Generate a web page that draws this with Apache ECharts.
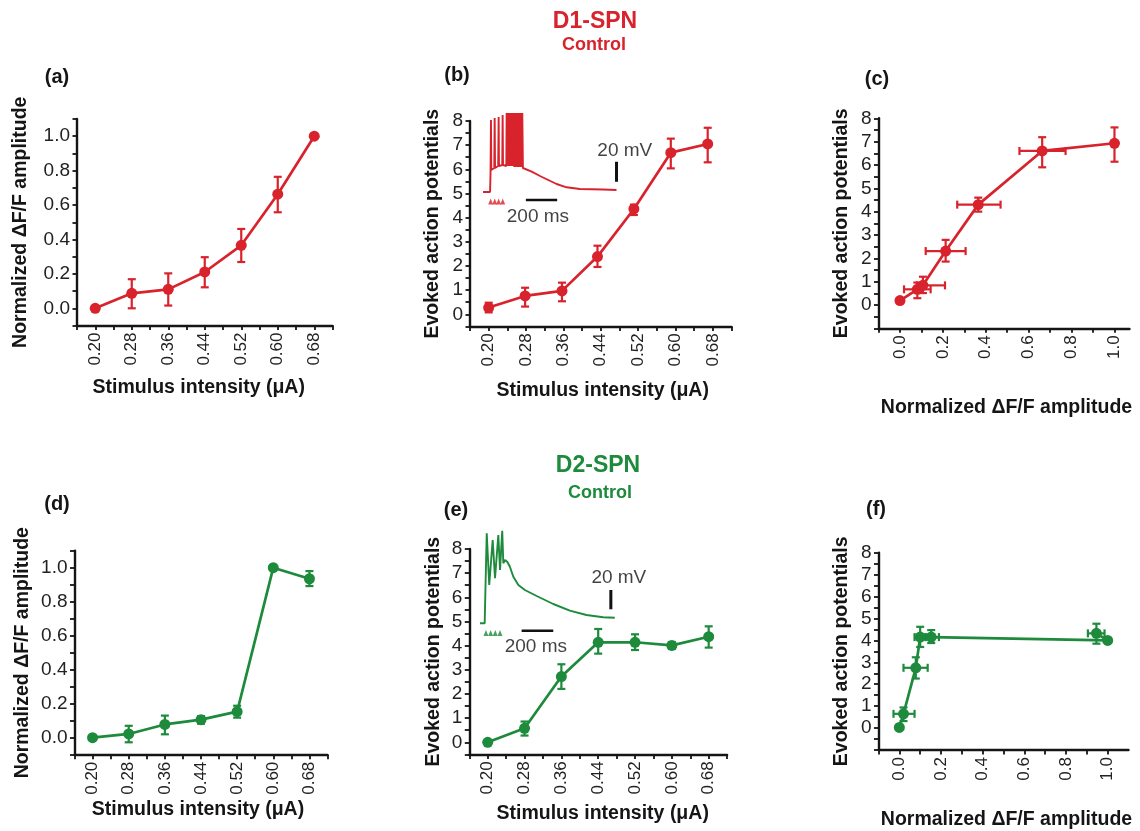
<!DOCTYPE html>
<html><head><meta charset="utf-8">
<script src="https://cdn.jsdelivr.net/npm/echarts@6/dist/echarts.min.js"></script>
<style>html,body{margin:0;padding:0;background:#fff}#c{width:1140px;height:831px}</style>
</head><body><div id="c"></div>
<script>
// ---------------- DATA ----------------
const stim = [0.20, 0.28, 0.36, 0.44, 0.52, 0.60, 0.68];
// (a) D1 normalized dF/F vs stimulus
const aY  = [0.0, 0.087, 0.11, 0.211, 0.366, 0.663, 1.0];
const aLo = [null, 0.0, 0.016, 0.122, 0.269, 0.558, null];
const aHi = [null, 0.169, 0.203, 0.297, 0.461, 0.764, null];
// (b) D1 evoked APs vs stimulus
const bX  = [0.20, 0.278, 0.357, 0.433, 0.511, 0.59, 0.669];
const bY  = [0.28, 0.76, 0.97, 2.39, 4.36, 6.69, 7.05];
const bLo = [0.08, 0.32, 0.54, 1.96, 4.11, 6.04, 6.29];
const bHi = [0.48, 1.10, 1.31, 2.84, 4.54, 7.27, 7.72];
// (c) D1 evoked APs vs normalized dF/F
const cX   = [0.0, 0.081, 0.107, 0.213, 0.365, 0.663, 1.0];
const cY   = [0.19, 0.67, 0.84, 2.31, 4.30, 6.60, 6.93];
const cXLo = [null, 0.019, 0.079, 0.12, 0.267, 0.557, null];
const cXHi = [null, 0.143, 0.21, 0.306, 0.469, 0.772, null];
const cYLo = [null, 0.29, 0.51, 1.86, 4.0, 5.9, 6.14];
const cYHi = [null, 0.96, 1.21, 2.79, 4.6, 7.19, 7.61];
// (d) D2 normalized dF/F vs stimulus
const dY  = [0.0, 0.022, 0.078, 0.106, 0.153, 1.0, 0.935];
const dLo = [null, -0.027, 0.02, 0.082, 0.118, null, 0.892];
const dHi = [null, 0.07, 0.13, 0.127, 0.188, null, 0.98];
// (e) D2 evoked APs vs stimulus
const eY  = [0.0, 0.58, 2.72, 4.14, 4.14, 4.01, 4.37];
const eLo = [null, 0.28, 2.21, 3.67, 3.82, 3.86, 3.92];
const eHi = [null, 0.86, 3.23, 4.69, 4.47, 4.15, 4.80];
// (f) D2 evoked APs vs normalized dF/F
const fX   = [0.0, 0.02, 0.079, 0.10, 0.153, 1.0, 0.946];
const fY   = [0.03, 0.65, 2.75, 4.15, 4.15, 4.0, 4.32];
const fXLo = [null, -0.028, 0.02, 0.073, 0.125, null, 0.905];
const fXHi = [null, 0.073, 0.136, 0.127, 0.19, null, 0.985];
const fYLo = [null, 0.32, 2.26, 3.70, 3.88, null, 3.85];
const fYHi = [null, 0.94, 3.23, 4.62, 4.47, null, 4.76];

// inset traces (time ms, membrane mV)
const trB_t = [0,45,48,51,53,72,74.5,77,97,100,102,123,125.5,128,149,151,156,162,167,173,178,184,189,195,200,206,211,217,222,228,233,239,245,251,255,311,364,417,470,534,619,768,853];
const trB_v = [-80,-80,-62,-8,-58,-56,-6,-56,-54,-5,-54,-53,-3,-53,-54,-1,-54,-1,-54,-1,-54,-1,-54,-1,-55,-1,-55,-1,-55,-1,-55,-1,-55,-1,-56,-59.7,-64,-68,-72,-75.3,-77,-77.5,-78];
const stimB_t = [49, 75, 100, 126];
const trE_t = [0,30,32,43,59,81,96,117,128,142,149,160,175,191,213,245,287,362,468,574,680,787,861];
const trE_v = [-79.3,-79.3,-64,10.7,-41,4,-34.3,9,-26,13.3,-19.3,-16,-18,-22.7,-32.7,-41,-46,-52,-60,-66.7,-71,-73.3,-73.7];
const stimE_t = [38, 68, 97.5, 127.6];

// tick values / labels
const xLabStim  = [0.20, 0.28, 0.36, 0.44, 0.52, 0.60, 0.68];
const xTickStim = [0.16,0.20,0.24,0.28,0.32,0.36,0.40,0.44,0.48,0.52,0.56,0.60,0.64,0.68,0.72];
const yLabNorm  = [0.0, 0.2, 0.4, 0.6, 0.8, 1.0];
const yTickNorm = [-0.1,0,0.1,0.2,0.3,0.4,0.5,0.6,0.7,0.8,0.9,1.0,1.1];
const yLabAP    = [0,1,2,3,4,5,6,7,8];
const yTickAPb  = [-0.5,0,0.5,1,1.5,2,2.5,3,3.5,4,4.5,5,5.5,6,6.5,7,7.5,8];
const yTickAPc  = [-1,-0.5,0,0.5,1,1.5,2,2.5,3,3.5,4,4.5,5,5.5,6,6.5,7,7.5,8];
const xLabNorm  = [0.0, 0.2, 0.4, 0.6, 0.8, 1.0];
const xTickNorm = [-0.1,0,0.1,0.2,0.3,0.4,0.5,0.6,0.7,0.8,0.9,1.0];

// ---------------- STYLE / LAYOUT ----------------
const RED = '#d8232c', GREEN = '#1d8a3c', INK = '#151515';
const NAME_STIM = 'Stimulus intensity (\u03bcA)';
const NAME_NORM = 'Normalized \u0394F/F amplitude';
const NAME_AP = 'Evoked action potentials';
const FONT = '"Liberation Sans", Arial, sans-serif';

const panels = [
  {color:RED, grid:{left:77,top:119,width:255.5,height:206.5},
   x:[0.16,0.72,xLabStim,xTickStim,2], y:[-0.1,1.1,yLabNorm,yTickNorm,1],
   xName:NAME_STIM, yName:NAME_NORM, xGap:52, yGap:46, xPad:[0,12,0,0],
   px:stim, py:aY, yLo:aLo, yHi:aHi},
  {color:RED, grid:{left:470,top:121,width:261.5,height:205.4},
   x:[0.16,0.72,xLabStim,xTickStim,2], y:[-0.5,8,yLabAP,yTickAPb,0],
   xName:NAME_STIM, yName:NAME_AP, xGap:54, yGap:27, xPad:[0,0,0,4],
   px:bX, py:bY, yLo:bLo, yHi:bHi},
  {color:RED, grid:{left:878.5,top:118.3,width:251,height:210},
   x:[-0.1,1.07,xLabNorm,xTickNorm,1], y:[-1,8,yLabAP,yTickAPc,0],
   xName:NAME_NORM, yName:NAME_AP, xGap:69, yGap:27, xPad:[0,0,0,5],
   px:cX, py:cY, yLo:cYLo, yHi:cYHi, xLo:cXLo, xHi:cXHi},
  {color:GREEN, grid:{left:74.5,top:550.7,width:253,height:204},
   x:[0.16,0.72,xLabStim,xTickStim,2], y:[-0.1,1.1,yLabNorm,yTickNorm,1],
   xName:NAME_STIM, yName:NAME_NORM, xGap:45, yGap:42, xPad:[0,6,0,0],
   px:stim, py:dY, yLo:dLo, yHi:dHi},
  {color:GREEN, grid:{left:469.3,top:549,width:257.8,height:205.4},
   x:[0.16,0.72,xLabStim,xTickStim,2], y:[-0.5,8,yLabAP,yTickAPb,0],
   xName:NAME_STIM, yName:NAME_AP, xGap:49, yGap:26, xPad:[0,0,0,9],
   px:stim, py:eY, yLo:eLo, yHi:eHi},
  {color:GREEN, grid:{left:878.5,top:552.7,width:250,height:203.6},
   x:[-0.1,1.1,xLabNorm,xTickNorm,1], y:[-1,8,yLabAP,yTickAPc,0],
   xName:NAME_NORM, yName:NAME_AP, xGap:60, yGap:27, xPad:[0,0,0,6],
   px:fX, py:fY, yLo:fYLo, yHi:fYHi, xLo:fXLo, xHi:fXHi}
];

const insets = [
  {color:RED, grid:{left:483,top:110,width:180,height:115}, x:[0,1150], y:[-113,2],
   t:trB_t, v:trB_v, stim:stimB_t, stimV:-89.5,
   hBar:[[274,-88],[474,-88]], vBar:[[853,-49.7],[853,-69.7]],
   msLab:[351,-104.7], mvLab:[906,-39]},
  {color:GREEN, grid:{left:480,top:520,width:180,height:140}, x:[0,1150], y:[-116,24],
   t:trE_t, v:trE_v, stim:stimE_t, stimV:-89,
   hBar:[[266,-86.7],[468,-86.7]], vBar:[[836,-46],[836,-65.3]],
   msLab:[357,-102.7], mvLab:[887,-34]}
];

// ---------------- BUILD ----------------
const grids = [], xAxes = [], yAxes = [], series = [];

function errRender(color){
  return function(params, api){
    const x = api.value(0), y = api.value(1);
    const yl = api.value(2), yh = api.value(3), xl = api.value(4), xh = api.value(5);
    const cap = 4, st = {stroke:color, lineWidth:2.2};
    const ch = [];
    const seg = (a,b)=>ch.push({type:'line',shape:{x1:a[0],y1:a[1],x2:b[0],y2:b[1]},style:st});
    if (yl !== yh) {
      const p1 = api.coord([x,yl]), p2 = api.coord([x,yh]);
      seg(p1,p2);
      seg([p1[0]-cap,p1[1]],[p1[0]+cap,p1[1]]);
      seg([p2[0]-cap,p2[1]],[p2[0]+cap,p2[1]]);
    }
    if (xl !== xh) {
      const p1 = api.coord([xl,y]), p2 = api.coord([xh,y]);
      seg(p1,p2);
      seg([p1[0],p1[1]-cap],[p1[0],p1[1]+cap]);
      seg([p2[0],p2[1]-cap],[p2[0],p2[1]+cap]);
    }
    return {type:'group', children:ch};
  };
}

panels.forEach((p,i)=>{
  grids.push(Object.assign({containLabel:false}, p.grid));
  const fmt = d => (v => Number(v).toFixed(d));
  xAxes.push({type:'value', gridIndex:i, min:p.x[0], max:p.x[1],
    name:p.xName, nameLocation:'middle', nameGap:p.xGap,
    nameTextStyle:{fontFamily:FONT, fontWeight:'bold', fontSize:19.5, color:INK, padding:p.xPad},
    axisLine:{show:true, onZero:false, lineStyle:{color:INK, width:2.4}},
    axisTick:{show:true, length:4.5, lineStyle:{color:INK, width:1.8}, customValues:p.x[3]},
    axisLabel:{customValues:p.x[2], formatter:fmt(p.x[4]), rotate:90, margin:7,
      fontFamily:FONT, fontSize:17, color:'#222'},
    splitLine:{show:false}});
  yAxes.push({type:'value', gridIndex:i, min:p.y[0], max:p.y[1],
    name:p.yName, nameLocation:'middle', nameGap:p.yGap,
    nameTextStyle:{fontFamily:FONT, fontWeight:'bold', fontSize:19.5, color:INK},
    axisLine:{show:true, onZero:false, lineStyle:{color:INK, width:2.4}},
    axisTick:{show:true, length:4.5, lineStyle:{color:INK, width:1.8}, customValues:p.y[3]},
    axisLabel:{customValues:p.y[2], formatter:fmt(p.y[4]), margin:7,
      fontFamily:FONT, fontSize:19, color:'#222'},
    splitLine:{show:false}});
  const errData = p.px.map((x,k)=>[x, p.py[k],
    p.yLo[k]==null ? p.py[k] : p.yLo[k], p.yHi[k]==null ? p.py[k] : p.yHi[k],
    (p.xLo && p.xLo[k]!=null) ? p.xLo[k] : x, (p.xHi && p.xHi[k]!=null) ? p.xHi[k] : x]);
  series.push({type:'custom', xAxisIndex:i, yAxisIndex:i, renderItem:errRender(p.color),
    encode:{x:0, y:1}, data:errData, z:3, silent:true});
  series.push({type:'line', xAxisIndex:i, yAxisIndex:i,
    data:p.px.map((x,k)=>[x,p.py[k]]), symbol:'circle', symbolSize:11, showSymbol:true,
    lineStyle:{color:p.color, width:2.7}, itemStyle:{color:p.color}, z:4});
});

insets.forEach((s,j)=>{
  const gi = panels.length + j;
  grids.push(s.grid);
  xAxes.push({type:'value', gridIndex:gi, min:s.x[0], max:s.x[1], show:false, splitLine:{show:false}});
  yAxes.push({type:'value', gridIndex:gi, min:s.y[0], max:s.y[1], show:false, splitLine:{show:false}});
  series.push({type:'line', xAxisIndex:gi, yAxisIndex:gi, data:s.t.map((t,k)=>[t,s.v[k]]),
    symbol:'none', lineStyle:{color:s.color, width:1.9}, z:2, silent:true});
  series.push({type:'scatter', xAxisIndex:gi, yAxisIndex:gi, data:s.stim.map(t=>[t,s.stimV]),
    symbol:'triangle', symbolSize:[5,6], itemStyle:{color:s.color}, z:2, silent:true});
  series.push({type:'line', xAxisIndex:gi, yAxisIndex:gi, data:s.hBar, symbol:'none',
    lineStyle:{color:'#111', width:2.6}, z:2, silent:true});
  series.push({type:'line', xAxisIndex:gi, yAxisIndex:gi, data:s.vBar, symbol:'none',
    lineStyle:{color:'#111', width:3}, z:2, silent:true});
  series.push({type:'scatter', xAxisIndex:gi, yAxisIndex:gi, symbolSize:1,
    itemStyle:{color:'rgba(0,0,0,0)'}, z:2, silent:true,
    label:{show:true, position:'inside', fontFamily:FONT, fontSize:19, color:'#111'},
    data:[{value:s.msLab, label:{formatter:'200 ms'}}, {value:s.mvLab, label:{formatter:'20 mV'}}]});
});

const txt = (x,y,t,size,color)=>({type:'text', x:x, y:y, silent:true,
  style:{text:t, font:'bold '+size+'px '+FONT, fill:color, align:'center', verticalAlign:'middle'}});

const option = {
  animation:false,
  backgroundColor:'#fff',
  grid:grids, xAxis:xAxes, yAxis:yAxes, series:series,
  graphic:[
    txt(595,22,'D1-SPN',23,RED), txt(594,45,'Control',18,RED),
    txt(598,466,'D2-SPN',23,GREEN), txt(600,493,'Control',18,GREEN),
    txt(57,77,'(a)',20,INK), txt(457,75,'(b)',20,INK), txt(877,79,'(c)',20,INK),
    txt(57,504,'(d)',20,INK), txt(456,510,'(e)',20,INK), txt(876,509,'(f)',20,INK)
  ]
};
echarts.init(document.getElementById('c'), null, {renderer:'canvas'}).setOption(option);
</script></body></html>
